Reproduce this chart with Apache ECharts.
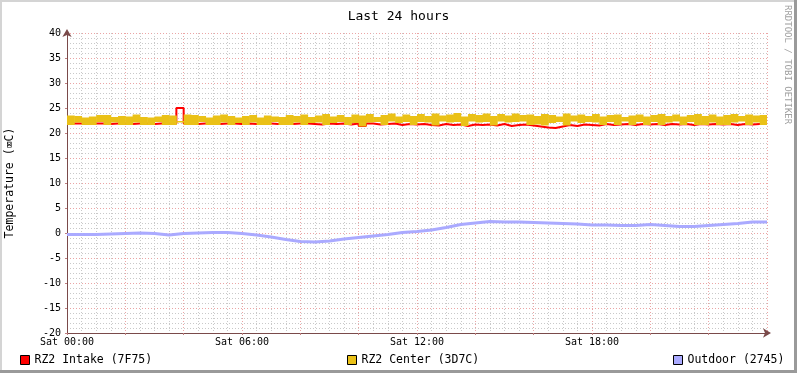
<!DOCTYPE html>
<html><head><meta charset="utf-8">
<script src="https://cdn.jsdelivr.net/npm/echarts@6/dist/echarts.min.js"></script>
<style>html,body{margin:0;padding:0;background:#fff}#c{width:797px;height:373px}</style>
</head><body><div id="c"></div>
<script>
// ---- data (15-minute steps, hours since Sat 00:00) ----
const stepHours = 0.25;
const xTickLabels = ['Sat 00:00', 'Sat 06:00', 'Sat 12:00', 'Sat 18:00'];
const seriesNames = ['RZ2 Intake (7F75)', 'RZ2 Center (3D7C)', 'Outdoor (2745)'];

const intake = [
  21.9,21.9,21.8,21.9,21.9,21.8,21.9,21.9,21.8,21.9,21.9,21.8,21.9,21.9,21.9,
  25.0,
  21.9,21.8,21.9,21.9,21.8,21.9,21.9,21.8,
  21.9,21.8,21.9,21.9,21.8,21.9,21.8,21.9,
  21.9,21.8,21.7,21.9,21.8,21.9,21.7,21.9,
  21.4,21.9,21.7,21.8,21.9,21.6,21.8,21.7,
  21.8,21.6,21.5,21.8,21.6,21.7,21.4,21.7,
  21.6,21.7,21.5,21.8,21.4,21.6,21.7,21.5,
  21.3,21.1,21.0,21.3,21.6,21.4,21.7,21.6,
  21.5,21.8,21.6,21.7,21.8,21.6,21.8,21.7,
  21.8,21.6,21.8,21.7,21.8,21.6,21.8,21.7,
  21.8,21.7,21.8,21.6,21.8,21.7,21.8,21.8,21.8
];

const centerHigh = [
  23.5,23.4,23.1,23.3,23.6,23.6,23.2,23.4,
  23.3,23.7,23.2,23.1,23.3,23.6,23.5,22.4,
  23.7,23.6,23.4,23.1,23.5,23.7,23.4,23.1,
  23.4,23.6,23.1,23.5,23.3,23.2,23.6,23.4,
  23.7,23.2,23.5,23.8,23.3,23.6,23.2,23.7,
  23.5,23.8,23.2,23.6,23.9,23.3,23.7,23.4,
  23.8,23.4,23.9,23.5,23.7,24.0,23.3,23.8,
  23.6,23.9,23.4,23.8,23.5,23.9,23.6,23.7,
  23.4,23.8,23.6,23.3,23.9,23.5,23.7,23.4,
  23.8,23.3,23.6,23.7,23.2,23.5,23.7,23.3,
  23.6,23.8,23.4,23.7,23.3,23.6,23.8,23.4,
  23.7,23.3,23.6,23.8,23.4,23.7,23.5,23.6
];

const centerLow = [
  21.6,22.1,21.6,21.6,22.2,21.6,22.1,21.6,
  21.6,22.1,21.6,21.6,22.2,21.6,21.6,22.1,
  21.6,21.6,22.2,21.6,21.6,22.1,21.6,22.0,
  21.6,22.1,21.6,21.6,22.2,21.6,21.6,22.1,
  21.6,22.0,22.1,21.6,22.0,22.2,21.6,22.0,
  21.3,22.1,22.2,21.6,22.3,22.0,22.2,21.6,
  22.2,22.1,21.5,22.3,22.1,22.2,21.4,22.3,
  22.1,22.2,21.5,22.3,22.1,22.2,22.3,21.6,
  21.7,21.5,22.0,22.2,21.5,22.3,22.0,22.2,
  22.1,21.6,22.2,21.6,22.3,21.6,22.2,21.6,
  22.2,21.6,22.1,22.3,21.6,22.2,21.6,21.6,
  22.1,21.6,21.6,22.1,22.3,21.6,22.1,21.6
];

// Outdoor, 30-minute steps
const outdoorStepHours = 0.5;
const outdoor = [
  -0.3,-0.3,-0.3,-0.2,-0.1,0.0,-0.1,-0.4,-0.1,0.0,0.1,0.1,
  -0.1,-0.4,-0.8,-1.3,-1.7,-1.8,-1.6,-1.2,-0.9,-0.6,-0.3,0.1,
  0.3,0.6,1.1,1.7,2.0,2.3,2.2,2.2,2.1,2.0,1.9,1.8,
  1.6,1.6,1.5,1.5,1.7,1.5,1.3,1.3,1.5,1.7,1.9,2.2,2.2
];

// ---- build series data ----
const pairs = (arr, step) => arr.map((v, i) => [i * step, v]);
const bandData = centerHigh.map((h, i) => [i * stepHours, centerLow[i], h]);

const FONT = '"DejaVu Sans Mono", monospace';
const chart = echarts.init(document.getElementById('c'), null, {renderer: 'canvas'});

const majorGrid = {show: true, lineStyle: {color: '#eba5a5', type: [1, 2], width: 1}};
const minorGrid = {show: true, lineStyle: {color: '#c9c9c9', type: [1, 2], width: 1}};
const axisColor = '#7a4a4a';
const YELLOW = '#eac117';

function renderBand(params, api) {
  const x0 = api.value(0);
  const p1 = api.coord([x0, api.value(2)]);
  const p2 = api.coord([x0 + stepHours, api.value(1)]);
  const cs = params.coordSys;
  const rect = echarts.graphic.clipRectByRect(
    {x: p1[0], y: p1[1], width: p2[0] - p1[0] + 0.5, height: p2[1] - p1[1]},
    {x: cs.x, y: cs.y, width: cs.width, height: cs.height});
  return rect && {type: 'rect', shape: rect, style: {fill: YELLOW}};
}

chart.setOption({
  animation: false,
  backgroundColor: '#ffffff',
  title: {
    text: 'Last 24 hours', left: 'center', top: 5,
    textStyle: {fontFamily: FONT, fontSize: 13, fontWeight: 'normal', color: '#000'}
  },
  grid: {left: 67, right: 30, top: 33, bottom: 40, containLabel: false, outerBoundsMode: 'none'},
  xAxis: [{
    type: 'value', min: 0, max: 24, interval: 2,
    axisLine: {show: true, onZero: false, lineStyle: {color: axisColor, width: 1}, symbol: ['none', 'arrow'], symbolSize: [7, 8], symbolOffset: [0, 4]},
    axisTick: {show: true, length: 2, lineStyle: {color: '#c08080'}},
    axisLabel: {show: false},
    splitLine: majorGrid,
    minorTick: {show: false, splitNumber: 4},
    minorSplitLine: minorGrid
  }, {
    type: 'value', min: 0, max: 24, interval: 6, position: 'bottom',
    axisLine: {show: false, onZero: false}, axisTick: {show: false}, splitLine: {show: false},
    axisLabel: {
      show: true, margin: 4, fontFamily: FONT, fontSize: 10, color: '#000',
      formatter: v => xTickLabels[Math.round(v / 6)] || ''
    }
  }],
  yAxis: {
    type: 'value', min: -20, max: 40, interval: 5,
    name: 'Temperature (\u2327C)', nameLocation: 'middle', nameGap: 51, nameRotate: 90,
    nameTextStyle: {fontFamily: FONT, fontSize: 11.5, color: '#000'},
    axisLine: {show: true, onZero: false, lineStyle: {color: axisColor, width: 1}, symbol: ['none', 'arrow'], symbolSize: [7, 8], symbolOffset: [0, 4]},
    axisTick: {show: true, length: 2, lineStyle: {color: '#c08080'}},
    axisLabel: {fontFamily: FONT, fontSize: 10, color: '#000', margin: 6},
    splitLine: majorGrid,
    minorTick: {show: false, splitNumber: 5},
    minorSplitLine: minorGrid
  },
  legend: [
    {left: 15, top: 349, icon: 'rect', itemWidth: 9, itemHeight: 9, selectedMode: false,
     textStyle: {fontFamily: FONT, fontSize: 11.5, color: '#000'},
     data: [{name: seriesNames[0], itemStyle: {color: '#ff0000', borderColor: '#000', borderWidth: 1}}]},
    {left: 342, top: 349, icon: 'rect', itemWidth: 9, itemHeight: 9, selectedMode: false,
     textStyle: {fontFamily: FONT, fontSize: 11.5, color: '#000'},
     data: [{name: seriesNames[1], itemStyle: {color: YELLOW, borderColor: '#000', borderWidth: 1}}]},
    {left: 668, top: 349, icon: 'rect', itemWidth: 9, itemHeight: 9, selectedMode: false,
     textStyle: {fontFamily: FONT, fontSize: 11.5, color: '#000'},
     data: [{name: seriesNames[2], itemStyle: {color: '#aaaaff', borderColor: '#000', borderWidth: 1}}]}
  ],
  series: [
    {
      name: seriesNames[0], type: 'line', step: 'end', showSymbol: false, z: 2,
      data: pairs(intake, stepHours),
      lineStyle: {color: '#ff0000', width: 2}, itemStyle: {color: '#ff0000'}
    },
    {
      name: seriesNames[1], type: 'custom', renderItem: renderBand, z: 5,
      encode: {x: 0, y: [1, 2]},
      data: bandData, itemStyle: {color: YELLOW}
    },
    {
      name: seriesNames[2], type: 'line', showSymbol: false, z: 6,
      data: pairs(outdoor, outdoorStepHours),
      lineStyle: {color: '#aaaaff', width: 3}, itemStyle: {color: '#aaaaff'}
    }
  ],
  graphic: [
    {type: 'rect', left: 0, top: 0, shape: {width: 797, height: 2}, style: {fill: '#d4d4d4'}, silent: true},
    {type: 'rect', left: 0, top: 0, shape: {width: 2, height: 373}, style: {fill: '#d4d4d4'}, silent: true},
    {type: 'rect', right: 0, top: 0, shape: {width: 3, height: 373}, style: {fill: '#9a9a9a'}, silent: true},
    {type: 'rect', left: 0, bottom: 0, shape: {width: 797, height: 3}, style: {fill: '#9a9a9a'}, silent: true},
    {type: 'text', x: 792, y: 5, rotation: -Math.PI / 2, silent: true,
     style: {text: 'RRDTOOL / TOBI OETIKER', fill: '#a0a0a0', font: '9px "DejaVu Sans Mono", monospace', textAlign: 'left', textVerticalAlign: 'top'}}
  ]
});
</script>
</body></html>
